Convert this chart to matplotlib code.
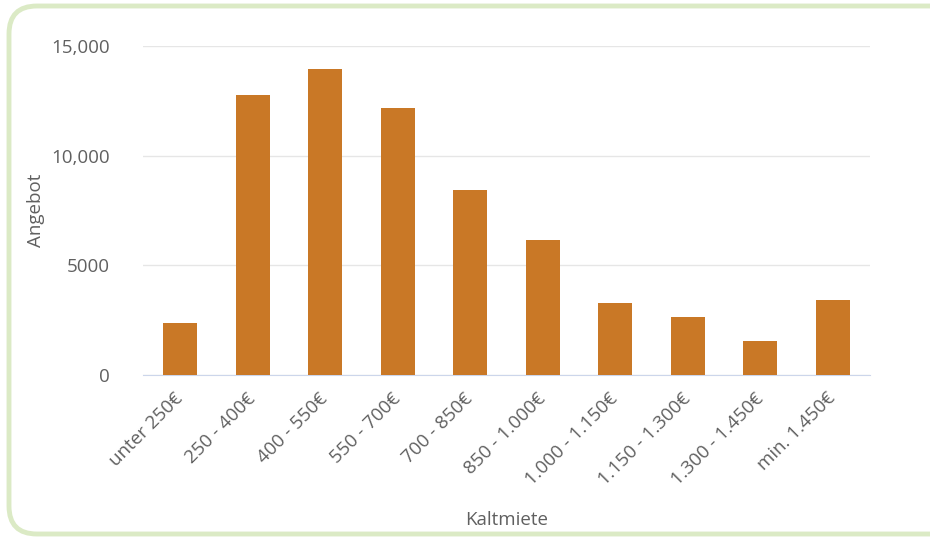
import matplotlib.pyplot as plt
from matplotlib.patches import FancyBboxPatch
from matplotlib.ticker import FuncFormatter

# Angebot je Kaltmiete-Klasse
categories = ["unter 250€", "250 - 400€", "400 - 550€", "550 - 700€", "700 - 850€",
              "850 - 1.000€", "1.000 - 1.150€", "1.150 - 1.300€", "1.300 - 1.450€",
              "min. 1.450€"]
offers = [2370, 12770, 13940, 12160, 8440, 6160, 3280, 2650, 1550, 3420]
y_ticks = [0, 5000, 10000, 15000]

plt.rcParams['font.family'] = ['Open Sans', 'DejaVu Sans']
text_color = '#606060'

fig = plt.figure(figsize=(9.3, 5.38), dpi=100)
ax = fig.add_axes([143 / 930, 1 - 375 / 538, (870 - 143) / 930, (375 - 46) / 538])

# rounded frame around the chart
frame = FancyBboxPatch((9 / 930, 4 / 538), 960 / 930, 528 / 538,
                       boxstyle="round,pad=0,rounding_size=0.03",
                       transform=fig.transFigure, facecolor='white',
                       edgecolor='#dbeac5', linewidth=3.5, zorder=-10,
                       mutation_aspect=930 / 538)
fig.patches.append(frame)

x = range(len(categories))
ax.bar(x, offers, width=0.47, color='#c97826', zorder=3)

ax.set_xlim(-0.51, len(categories) - 0.49)
ax.set_ylim(0, 15000)
ax.set_yticks(y_ticks)
ax.yaxis.set_major_formatter(FuncFormatter(
    lambda v, _: f"{int(v):,}" if v >= 10000 else f"{int(v)}"))
ax.set_xticks(list(x))
ax.set_xticklabels(categories, rotation=45, ha='right', va='center',
                   rotation_mode='anchor')

ax.grid(axis='y', color='#e6e6e6', linewidth=1, zorder=0)
for side in ['top', 'right', 'left']:
    ax.spines[side].set_visible(False)
ax.spines['bottom'].set_color('#ccd6eb')
ax.set_facecolor('none')
ax.tick_params(axis='both', length=0, labelsize=13.5, labelcolor=text_color)
ax.tick_params(axis='y', pad=24)
ax.tick_params(axis='x', pad=15)

ax.set_xlabel('Kaltmiete', fontsize=13.5, color=text_color, labelpad=16)
ax.set_ylabel('Angebot', fontsize=13.5, color=text_color, labelpad=4)

fig.savefig('out.png', dpi=100)
